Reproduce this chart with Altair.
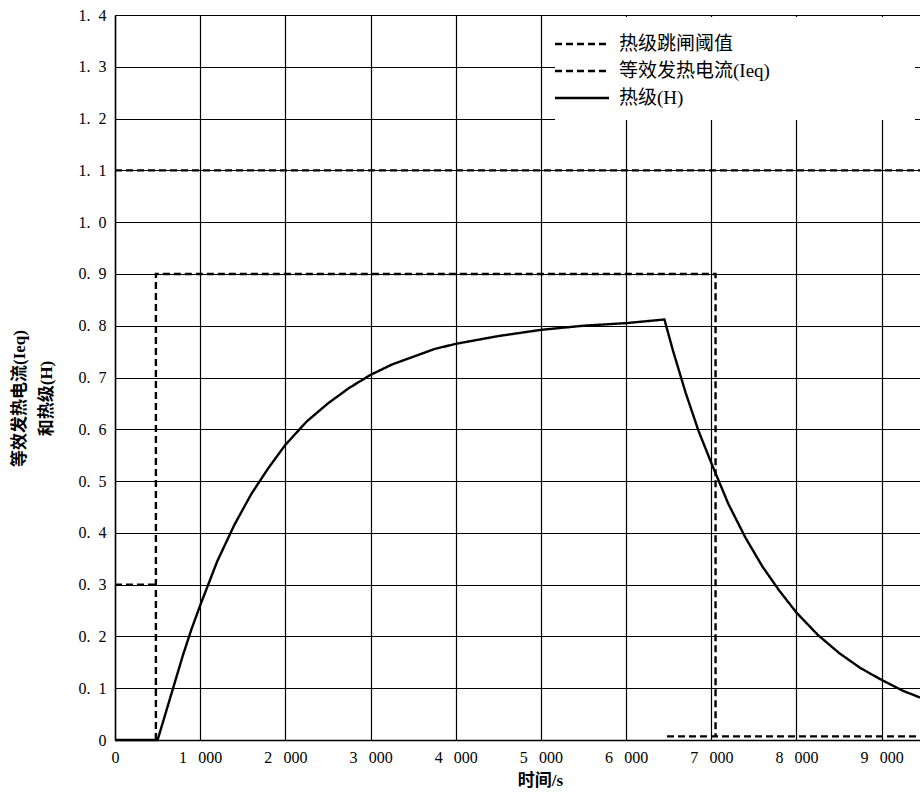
import altair as alt
import pandas as pd

# ---- data ----
series_names = ["热级跳闸阈值", "等效发热电流(Ieq)", "热级(H)"]

x_ticks = [0, 1000, 2000, 3000, 4000, 5000, 6000, 7000, 8000, 9000]
y_ticks = [0.0, 0.1, 0.2, 0.3, 0.4, 0.5, 0.6, 0.7, 0.8, 0.9, 1.0, 1.1, 1.2, 1.3, 1.4]

threshold_t = [0, 9450]
threshold_v = [1.1, 1.1]

ieq_a_t = [0, 480]
ieq_a_v = [0.3, 0.3]
ieq_b_t = [480, 480, 7050, 7050]
ieq_b_v = [0.0, 0.9, 0.9, 0.007]
ieq_c_t = [6480, 9450]
ieq_c_v = [0.007, 0.007]

h_t = [0, 500, 600, 700, 800, 900, 1000, 1200, 1400, 1600, 1800, 2000, 2250,
       2500, 2750, 3000, 3250, 3500, 3750, 4000, 4500, 5000, 5500, 6000, 6450,
       6550, 6700, 6850, 7000, 7200, 7400, 7600, 7800, 8000, 8250, 8500, 8750,
       9000, 9250, 9450]
h_v = [0.0, 0.0, 0.055, 0.11, 0.165, 0.215, 0.26, 0.345, 0.415, 0.475, 0.525, 0.57, 0.615,
       0.65, 0.68, 0.705, 0.725, 0.74, 0.755, 0.765, 0.78, 0.792, 0.80, 0.805, 0.812,
       0.752, 0.67, 0.597, 0.535, 0.456, 0.391, 0.335, 0.288, 0.246, 0.203, 0.168, 0.139,
       0.116, 0.095, 0.082]

rows = []
def add(series, seg, ts, vs):
    for i, (t, v) in enumerate(zip(ts, vs)):
        rows.append({"series": series, "seg": seg, "t": t, "v": v, "ord": i})

add(series_names[0], "thr", threshold_t, threshold_v)
add(series_names[1], "ieq_a", ieq_a_t, ieq_a_v)
add(series_names[1], "ieq_b", ieq_b_t, ieq_b_v)
add(series_names[1], "ieq_c", ieq_c_t, ieq_c_v)
add(series_names[2], "h", h_t, h_v)
df = pd.DataFrame(rows)

FONT = "'Liberation Serif', 'Noto Sans CJK SC'"
PAD = "\u2003" * 7 + "\u200b"

chart = alt.Chart(df).mark_line(color="black", strokeWidth=2.4).encode(
    x=alt.X(
        "t:Q",
        scale=alt.Scale(domain=[0, 9450], nice=False, zero=False),
        axis=alt.Axis(
            values=x_ticks,
            labelExpr="datum.value == 0 ? '0' : replace(format(datum.value, ','), ',', '\u2002\u2009')",
            title="时间/s",
            titleX=425,
            titleY=40,
            titleBaseline="middle",
            titleAlign="center",
            labelFlush=False,
            labelOverlap=False,
        ),
    ),
    y=alt.Y(
        "v:Q",
        scale=alt.Scale(domain=[0, 1.4], nice=False),
        axis=alt.Axis(
            values=y_ticks,
            labelExpr="datum.value == 0 ? '0' : replace(format(datum.value, '.1f'), '.', '.\u2002')",
            title=["等效发热电流(Ieq)", "和热级(H)"],
            titleX=-96,
            titleY=383,
            titleAlign="center",
            titleBaseline="middle",
            titleLineHeight=27,
            labelOverlap=False,
        ),
    ),
    strokeDash=alt.StrokeDash(
        "series:N",
        scale=alt.Scale(domain=series_names, range=[[7, 4], [7, 4], [1, 0]]),
        legend=alt.Legend(
            title=None,
            orient="none",
            legendX=440,
            legendY=2,
            padding=12,
            fillColor="white",
            symbolType="M-2,0H2",
            symbolSize=729,
            symbolStrokeWidth=2.4,
            symbolStrokeColor="black",
            labelOffset=22,
            labelFont=FONT,
            labelFontSize=19,
            labelColor="black",
            labelLimit=600,
            labelExpr="datum.label + '" + PAD + "'",
            rowPadding=2,
        ),
    ),
    detail="seg:N",
    order="ord:Q",
).properties(
    width=805,
    height=725,
    autosize=alt.AutoSizeParams(type="none"),
    padding={"left": 115, "top": 15, "right": 0, "bottom": 52},
    background="white",
).configure_view(
    strokeWidth=0,
).configure_axis(
    grid=True,
    gridColor="black",
    gridWidth=1.2,
    gridOpacity=1,
    ticks=False,
    domainColor="black",
    domainWidth=1.5,
    labelFont="Liberation Serif",
    labelFontSize=16,
    labelColor="black",
    labelPadding=9,
    titleFont=FONT,
    titleFontSize=17,
    titleFontWeight="bold",
    titleColor="black",
)

chart.save("out.html", embed_options={"renderer": "svg", "actions": False})
